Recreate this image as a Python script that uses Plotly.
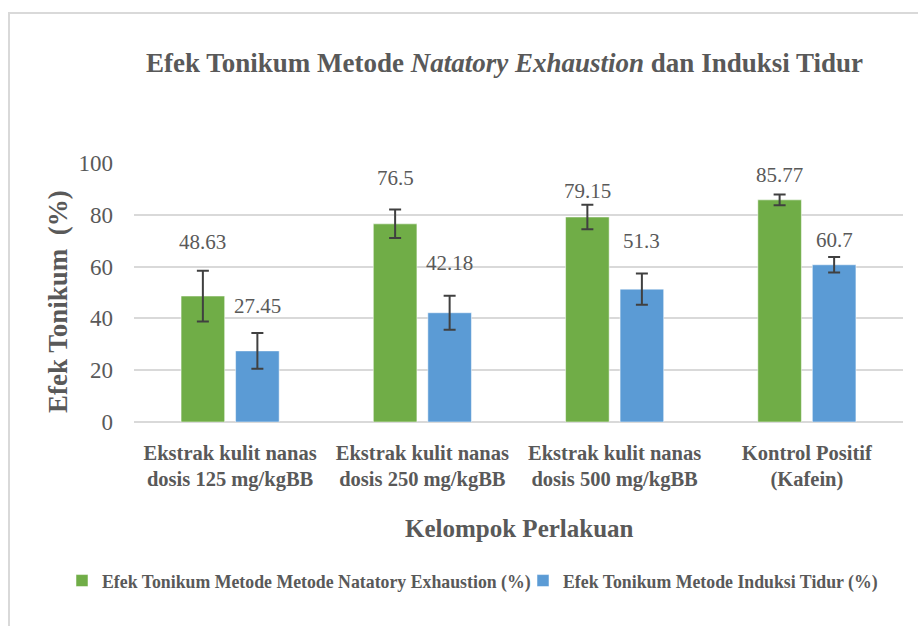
import plotly.graph_objects as go

categories = [
    "Ekstrak kulit nanas<br>dosis 125 mg/kgBB",
    "Ekstrak kulit nanas<br>dosis 250 mg/kgBB",
    "Ekstrak kulit nanas<br>dosis 500 mg/kgBB",
    "Kontrol Positif<br>(Kafein)",
]
natatory = [48.63, 76.5, 79.15, 85.77]
natatory_err = [9.8, 5.5, 4.7, 2.1]
induksi = [27.45, 42.18, 51.3, 60.7]
induksi_err = [6.9, 6.6, 6.0, 3.0]
y_ticks = [0, 20, 40, 60, 80, 100]

# label positions (data units) for the value labels
natatory_label_y = [69.6, 94.3, 89.1, 95.4]
induksi_label_y = [44.9, 61.5, 70.0, 70.3]

GREEN = "#70AD47"
BLUE = "#5B9BD5"
TXT = "#595959"
FONT = "Liberation Serif, Times New Roman, serif"

# pixel geometry
W, H = 918, 626
L, R, T, B = 134, 15, 163, 204
pw, ph = W - L - R, H - T - B


def px(x):
    return (x - L) / pw


def py(y):
    return (H - B - y) / ph


fig = go.Figure()
fig.add_trace(go.Bar(
    x=categories, y=natatory, name="Efek Tonikum Metode Metode Natatory Exhaustion (%)",
    marker=dict(color=GREEN, line=dict(color="rgba(255,255,255,0.5)", width=1)),
    error_y=dict(type="data", array=natatory_err, color="#404040", thickness=2, width=6),
    legend="legend",
))
fig.add_trace(go.Bar(
    x=categories, y=induksi, name="Efek Tonikum Metode Induksi Tidur (%)",
    marker=dict(color=BLUE, line=dict(color="rgba(255,255,255,0.5)", width=1)),
    error_y=dict(type="data", array=induksi_err, color="#404040", thickness=2, width=6),
    legend="legend2",
))

annotations = []
shift = 27.25
for cat, v, ly in zip(categories, natatory, natatory_label_y):
    annotations.append(dict(x=cat, y=ly, xref="x", yref="y", xshift=-shift, text=f"{v:g}",
                            showarrow=False, font=dict(family=FONT, size=21, color=TXT)))
for cat, v, ly in zip(categories, induksi, induksi_label_y):
    annotations.append(dict(x=cat, y=ly, xref="x", yref="y", xshift=shift, text=f"{v:g}",
                            showarrow=False, font=dict(family=FONT, size=21, color=TXT)))

annotations.append(dict(x=px(58), y=py(302), xref="paper", yref="paper", text="Efek Tonikum  (%)",
                        textangle=-90, showarrow=False, xanchor="center", yanchor="middle",
                        font=dict(family=FONT, size=27, color=TXT, weight="bold")))
annotations.append(dict(x=px(519), y=py(528), xref="paper", yref="paper", text="Kelompok Perlakuan",
                        showarrow=False, xanchor="center", yanchor="middle",
                        font=dict(family=FONT, size=25, color=TXT, weight="bold")))

legend_font = dict(family=FONT, size=17.8, color=TXT, weight="bold")

fig.update_layout(
    width=W, height=H,
    margin=dict(l=L, r=R, t=T, b=B),
    paper_bgcolor="white", plot_bgcolor="white",
    barmode="group", bargap=0.433, bargroupgap=0.2,
    title=dict(text="Efek Tonikum Metode <i>Natatory Exhaustion</i> dan Induksi Tidur",
               x=504.5 / W, xref="container", xanchor="center",
               y=1 - 63 / H, yref="container", yanchor="middle",
               font=dict(family=FONT, size=27, color=TXT, weight="bold")),
    xaxis=dict(tickfont=dict(family=FONT, size=20.5, color=TXT, weight="bold"),
               showgrid=False, showline=False, ticks="", ticklabelstandoff=16),
    yaxis=dict(range=[0, 100], tickvals=y_ticks, showgrid=True, gridcolor="#D9D9D9", gridwidth=2,
               zeroline=True, zerolinecolor="#D9D9D9", zerolinewidth=2, showline=False,
               tickfont=dict(family=FONT, size=23, color=TXT), ticks="", ticklabelstandoff=20),
    legend=dict(orientation="h", x=px(62), y=py(581), xanchor="left", yanchor="middle",
                font=legend_font, itemwidth=30, bgcolor="rgba(0,0,0,0)"),
    legend2=dict(orientation="h", x=px(523), y=py(581), xanchor="left", yanchor="middle",
                 font=legend_font, itemwidth=30, bgcolor="rgba(0,0,0,0)"),
    annotations=annotations,
    shapes=[dict(type="rect", xref="paper", yref="paper", x0=px(9), y0=py(13), x1=px(935), y1=py(650),
                 line=dict(color="#D9D9D9", width=2), fillcolor="rgba(0,0,0,0)", layer="below")],
    showlegend=True,
)

fig.write_html("out.html", config={"displayModeBar": False})

# remove the default page margin so the figure sits at the window origin
with open("out.html", encoding="utf-8") as f:
    html = f.read()
marker = '<head><meta charset="utf-8" /></head>'
if marker in html:
    html = html.replace(marker, '<head><meta charset="utf-8" /><style>body{margin:0;}</style></head>', 1)
with open("out.html", "w", encoding="utf-8") as f:
    f.write(html)
